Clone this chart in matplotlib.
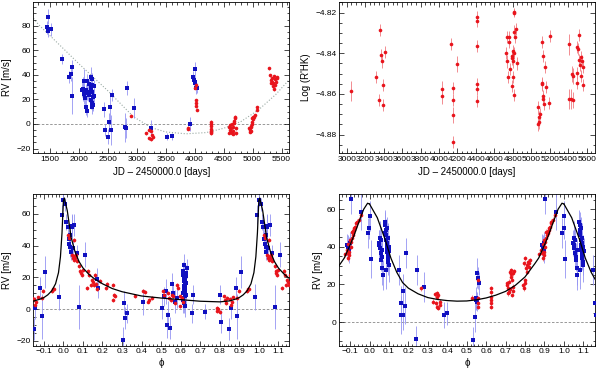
"""RV time series, activity index and phase-folded RV curves (2x2 panel figure)."""

import matplotlib
matplotlib.use("Agg")
import matplotlib.pyplot as plt
from matplotlib.ticker import MultipleLocator
import numpy as np

plt.rcParams["font.family"] = ["Liberation Sans", "DejaVu Sans"]
plt.rcParams["font.size"] = 6

BLUE = "#1010c0"
BLUE_ERR = "#9494f2"
RED = "#e8141c"
RED_ERR = "#f07a80"

# --- top left: RV vs time -------------------------------------------------
t_blue = [1443, 1460, 1471, 1512, 1713, 1834, 1863, 1886, 1886, 2047, 2070, 2075,
          2087, 2093, 2105, 2122, 2122, 2133, 2133, 2145, 2162, 2180, 2180, 2203,
          2203, 2208, 2220, 2220, 2225, 2225, 2225, 2237, 2248, 2260, 2265, 2438,
          2450, 2497, 2519, 2541, 2559, 2576, 2795, 2807, 2835, 2957, 3240, 3526,
          3602, 3918, 3975, 3987, 3999, 4004, 4010, 4022, 4044]
rv_blue = [78.6, 87.3, 75.9, 77, 52.6, 38, 40.6, 46, 23, 28, 28, 28.5,
           35, 24.4, 20.9, 27.6, 14, 35, 10.8, 25.5, 26.3, 32.5, 23.6, 38.5,
           19.5, 29, 36.3, 17.3, 31.4, 26.3, 13.5, 22.2, 15.4, 22.8, 30.9, 12,
           -4.9, -10.3, 1.9, 13.5, -4.9, 23.6, -2.7, -3.3, 29.3, 12.8, -3, -10.3,
           -10, 0, 38.5, 35.8, 44.7, 33.1, 34.4, 29, 29]
err_blue = [5, 6, 5, 5, 4, 5, 6, 6, 15, 6, 7, 10,
            10, 8, 6, 5, 7, 6, 5, 6, 8, 5, 6, 8,
            7, 9, 5, 6, 7, 6, 5, 6, 5, 6, 5, 6,
            5, 6, 7, 10, 12, 5, 12, 8, 6, 8, 6, 3,
            3, 6, 5, 4, 6, 4, 5, 5, 4]

t_red = [2894, 3158, 3215, 3239, 3262, 3210, 3239, 3274, 3878, 3890,
         4004, 4015, 4020, 4024, 4040, 4022,
         4275, 4275, 4275, 4275, 4275, 4275, 4275,
         4586, 4597, 4609, 4609, 4621, 4631, 4638, 4643, 4655, 4666, 4666,
         4679, 4683, 4690, 4700, 4713, 4713,
         4942, 4954, 4954, 4966, 4972, 4977, 4983, 4989, 4994, 5001, 5011,
         5023, 5041, 5070, 5080,
         5282, 5299, 5311, 5322, 5328, 5339, 5351, 5357, 5369, 5369, 5380,
         5391, 5403, 5415, 5426]
rv_red = [6.8, -7.6, -4.9, -5.7, -8.9, -11.6, -12.4, -10.8, -4, -3,
          29.5, 31.7, 16.8, 14.6, 11.4, 19.5,
          1.9, 0, -1.6, -3.8, -5.4, -6.8, -7.6,
          -7.1, -2.2, -4.9, -0.8, -3.5, -6.3, -7.6, 0, -5.4, -2.2, -8.1,
          0.6, 2.7, 4.6, 5.9, -7.6, -3.5,
          -3.5, -4.9, -6.3, -2.2, -5.4, -1.4, 0, 1.9, 4.6, 5.9, 3.8,
          5.4, 7.3, 11.4, 13.6,
          45.3, 39.8, 35.8, 33.6, 34.4, 37.1, 33.1, 30.9, 39, 28.2, 36.3,
          31.7, 34.4, 38, 37.1]

# long-term trend
trend_t = [1215, 1300, 1673, 2000, 2500, 2939, 3250, 3500, 3850, 4200, 4500,
           4800, 5100, 5400, 5630]
trend_rv = [86, 81, 64, 49, 27, 6, -3, -6.5, -8, -7, -3.5, 2, 11.4, 24, 36]

# --- top right: activity index --------------------------------------------
t_rhk = [3043, 3318, 3354, 3361, 3368, 3379, 3397, 3397, 3415,
         4029, 4029, 4126, 4155, 4155, 4155, 4155, 4191,
         4408, 4415, 4415, 4408, 4408, 4408,
         4726, 4733, 4740, 4747, 4762, 4762, 4769, 4787, 4791, 4794, 4798,
         4805, 4805, 4812, 4812, 4812, 4816, 4816, 4823, 4834, 4841,
         5069, 5076, 5083, 5087, 5090, 5112, 5116, 5119, 5123, 5123, 5126,
         5141, 5148, 5155, 5195, 5202,
         5411, 5411, 5429, 5440, 5447, 5447, 5491, 5491, 5498, 5501, 5512,
         5520, 5527, 5534, 5534, 5545, 5556, 5563]
rhk = [-4.8585, -4.8518, -4.863, -4.8285, -4.841, -4.844, -4.8556, -4.8654, -4.8395,
       -4.8576, -4.861, -4.8354, -4.857, -4.863, -4.8703, -4.8835, -4.8453,
       -4.8223, -4.824, -4.8364, -4.8553, -4.8577, -4.8633,
       -4.84, -4.8321, -4.844, -4.8518, -4.8321, -4.8343, -4.8479, -4.8413,
       -4.8425, -4.856, -4.844, -4.8518, -4.8387, -4.8195, -4.8203, -4.8605,
       -4.8397, -4.8293, -4.8321, -4.828, -4.845,
       -4.8666, -4.875, -4.874, -4.8715, -4.87, -4.8548, -4.8553, -4.8343,
       -4.8413, -4.861, -4.8626, -4.865, -4.8469, -4.8567, -4.8646, -4.8313,
       -4.8356, -4.8626, -4.8626, -4.8502, -4.863, -4.851, -4.8498, -4.8545,
       -4.8367, -4.838, -4.831, -4.8433, -4.8458, -4.842, -4.851, -4.844,
       -4.8466, -4.8556]
rhk_err = [0.005, 0.003, 0.003, 0.003, 0.003, 0.003, 0.003, 0.003, 0.003,
           0.004, 0.004, 0.003, 0.003, 0.003, 0.004, 0.003, 0.004,
           0.003, 0.003, 0.003, 0.003, 0.003, 0.003,
           0.003, 0.003, 0.003, 0.003, 0.003, 0.003, 0.003, 0.003,
           0.003, 0.003, 0.003, 0.003, 0.003, 0.002, 0.002, 0.003,
           0.003, 0.003, 0.003, 0.003, 0.003,
           0.003, 0.003, 0.003, 0.003, 0.003, 0.003, 0.003, 0.003,
           0.003, 0.003, 0.003, 0.003, 0.003, 0.003, 0.003, 0.003,
           0.005, 0.005, 0.005, 0.004, 0.004, 0.004, 0.003, 0.003,
           0.003, 0.003, 0.003, 0.003, 0.003, 0.003, 0.003, 0.003,
           0.003, 0.003]

# --- bottom left: phase-folded RV, planet 1 (phase in [0, 1)) -------------
ph1_blue = [0.0, 0.009, 0.014, 0.023, 0.035, 0.028, 0.031, 0.035, 0.038, 0.043,
            0.048, 0.043, 0.056, 0.069, 0.081, 0.111, 0.171, 0.179, 0.307, 0.311,
            0.316, 0.328, 0.41, 0.503, 0.517, 0.523, 0.529, 0.537, 0.546, 0.554,
            0.563, 0.571, 0.58,
            0.611, 0.614, 0.617, 0.619, 0.621, 0.623, 0.624, 0.626, 0.611, 0.614,
            0.617, 0.623, 0.626, 0.628, 0.631, 0.619, 0.612, 0.624, 0.616, 0.621,
            0.629, 0.617,
            0.657, 0.662, 0.725, 0.801, 0.807, 0.849, 0.856, 0.881, 0.891, 0.907,
            0.98, 0.992]
rv1_blue = [69, 66, 55, 52, 47, 44, 41, 39, 36, 52,
            38.5, 52.2, 52.8, 35.4, 1.3, 34.3, 19.2, 13.3, -19.4, 4.2,
            -5.7, -2.5, 4.4, 0.6, 8, 11.2, -9.9, -3.6, -12, 15.8,
            10.1, 4.8, 6.9,
            23.8, 21.7, 19.6, 17.5, 15.4, 13.3, 11.2, 9.1, 6.9, 5.9,
            3.8, 2.3, 16.4, 22.7, 25.9, 12.2, 10.1, 8, 14.3, 18.5,
            20.6, 28,
            -2.5, 9.1, -1.5, 9.1, -7.8, -12.6, 0.6, 13.3, -4.6, 23.6,
            7.6, 59.4]
err1_blue = [4, 4, 5, 6, 5, 6, 5, 6, 5, 8,
             6, 7, 7, 5, 14, 8, 7, 6, 8, 7,
             7, 6, 8, 7, 6, 8, 8, 9, 7, 7,
             6, 7, 6,
             6, 7, 5, 8, 6, 7, 5, 6, 7, 8,
             6, 7, 6, 5, 6, 7, 8, 6, 7, 5,
             6, 7,
             6, 6, 5, 6, 7, 7, 7, 7, 14, 10,
             8, 6]

ph1_red = [0.026, 0.031, 0.052, 0.043, 0.048, 0.052, 0.055, 0.06, 0.064, 0.069,
           0.082, 0.086, 0.09, 0.094, 0.099, 0.12, 0.128, 0.133, 0.14, 0.145,
           0.15, 0.157, 0.162, 0.167, 0.174, 0.185, 0.219, 0.222, 0.256, 0.26,
           0.265, 0.256, 0.367, 0.41, 0.418, 0.435, 0.44, 0.452, 0.512, 0.515,
           0.537, 0.542, 0.549, 0.554, 0.563, 0.571, 0.58, 0.588, 0.597, 0.597,
           0.605, 0.61, 0.784, 0.788, 0.793, 0.801, 0.822, 0.827, 0.832, 0.839,
           0.852, 0.856, 0.861, 0.87, 0.89, 0.898, 0.941, 0.946, 0.951]
rv1_red = [47, 44.8, 43.8, 34.3, 32.2, 31.2, 33.3, 32.2, 34.3, 30.1,
           27, 23.8, 22.7, 21.7, 24.8, 13.3, 24.2, 21.7, 15.4, 18.5,
           17, 15, 21.7, 15.8, 12.8, 17.5, 13.3, 16, 15.4, 9,
           8, 5.9, 8.4, 11.2, 10.7, 4.8, 5.9, 6.9, 11.2, 9,
           10.1, 6.9, 5.9, 9, 8, 3.8, 15.4, 13.3, 8, 1.7,
           6.9, 4.8, 0.6, -1, 0.2, -1.9, 8, 5.9, 3.8, 6.9,
           6.5, 2.7, 4.8, 7.4, 6.9, 11.6, 11.6, 12.6, 12.8]

curve1_ph = [0.0, 0.005, 0.02, 0.04, 0.06, 0.08, 0.1, 0.13, 0.16, 0.2, 0.25, 0.3,
             0.4, 0.5, 0.6, 0.7, 0.8, 0.85, 0.88, 0.9, 0.92, 0.94, 0.96, 0.975,
             0.985, 0.993, 1.0]
curve1_rv = [68, 70, 62, 45, 36, 30, 26, 22, 19, 16, 13, 11,
             8.3, 7, 6, 5, 4.6, 5.2, 6.3, 7.3, 9, 11.5, 16, 23,
             33, 48, 68]

# --- bottom right: phase-folded RV, planet 2 (phase in [0, 1)) ------------
ph2_blue = [0.886, 0.891, 0.897, 0.9, 0.905, 0.957, 0.991, 0.998, 0.003, 0.006,
            0.047, 0.051, 0.054, 0.054, 0.058, 0.059, 0.061, 0.063, 0.065, 0.066,
            0.068,
            0.08, 0.082, 0.082, 0.083, 0.085, 0.085, 0.087, 0.089, 0.089, 0.089,
            0.09, 0.092, 0.092, 0.094, 0.095, 0.095, 0.097, 0.099, 0.099, 0.102,
            0.15, 0.16, 0.164, 0.174, 0.174, 0.18, 0.188, 0.243, 0.24, 0.28,
            0.383, 0.397, 0.534, 0.543, 0.546, 0.548, 0.552, 0.555, 0.558, 0.562]
rv2_blue = [41, 40.1, 38.3, 41.9, 65.5, 58.8, 47.2, 50.2, 56.6, 33.5,
            41.9, 41, 39.2, 44.5, 43.7, 36.6, 33, 34.8, 28.6, 38.3,
            25,
            53.4, 51.6, 47.2, 48.9, 46.3, 27.7, 43.7, 41, 38.4, 49.9,
            39.2, 37.5, 41.9, 35.7, 33.9, 44.5, 32.1, 30.4, 40.1, 37.8,
            27.7, 9.9, 3.7, 3.7, 16.5, 8.7, 36.6, 27.7, -9, 18.8,
            3.7, 4.6, -9.6, 2.8, 12.6, 11.7, 10.8, 25.9, 23.3, 20.6]
err2_blue = [6, 6, 7, 6, 8, 10, 8, 6, 8, 10,
             7, 8, 6, 9, 7, 8, 6, 7, 9, 6,
             8,
             6, 7, 8, 6, 7, 10, 6, 8, 7, 6,
             7, 8, 6, 7, 6, 8, 7, 9, 6, 7,
             8, 9, 10, 8, 9, 10, 8, 8, 7, 8,
             7, 6, 7, 8, 6, 5, 5, 8, 6, 6]

ph2_red = [0.874, 0.883, 0.888, 0.891, 0.891, 0.897, 0.897, 0.9, 0.903, 0.903,
           0.909, 0.909, 0.914, 0.917, 0.917, 0.921, 0.921, 0.926, 0.931, 0.934,
           0.945, 0.955,
           0.264, 0.329, 0.337, 0.342, 0.346, 0.346, 0.349, 0.354, 0.354, 0.36,
           0.363, 0.526, 0.558, 0.56, 0.56, 0.56,
           0.624, 0.624, 0.624, 0.624, 0.624, 0.624,
           0.706, 0.709, 0.713, 0.714, 0.716, 0.72, 0.721, 0.723, 0.726, 0.728,
           0.73, 0.733, 0.735, 0.737, 0.74, 0.74, 0.744,
           0.792, 0.795, 0.797, 0.799, 0.8, 0.802, 0.806, 0.809, 0.812, 0.816,
           0.819, 0.822, 0.826]
rv2_red = [36, 38.3, 36.6, 41.4, 33.9, 37.5, 35.6, 43.7, 40.1, 42.4,
           48.1, 44.9, 46.3, 48.5, 47.2, 49.9, 49, 50.8, 52.5, 53.4,
           54.5, 57,
           17.9, 10.8, 14.7, 9.9, 15.3, 8.2, 13.5, 14.4, 7.6, 10.8,
           9.1, 13, 9.9, 12.6, 22.4, 8.2,
           17.9, 16.2, 13.5, 11.7, 9.9, 8.2,
           19.7, 20.6, 15.3, 17.9, 16.2, 21.5, 17.6, 26.8, 27.7, 25.4,
           24.1, 22.4, 14.4, 18.8, 16.5, 25.9, 27.2,
           19.7, 31.2, 17.9, 20.6, 33.9, 22.4, 28.6, 30.4, 26.8, 32.1,
           29.5, 31.2, 33]

curve2_ph = [0.0, 0.04, 0.08, 0.11, 0.14, 0.17, 0.2, 0.25, 0.3, 0.35, 0.4, 0.45,
             0.5, 0.55, 0.6, 0.65, 0.7, 0.75, 0.8, 0.85, 0.87, 0.9, 0.92, 0.95,
             0.97, 0.99, 1.0]
curve2_rv = [62.8, 55.5, 44, 34, 26.5, 21, 18, 15, 13, 12, 11.4, 11.1,
             11.2, 11.8, 12.8, 14.3, 16.3, 19.5, 24, 31, 34, 41, 46, 54.5,
             60, 63.2, 62.8]


def style_axes(ax, xmajor, xminor, ymajor, yminor):
    """Inward ticks on all four sides, with minor ticks."""
    ax.xaxis.set_major_locator(MultipleLocator(xmajor))
    ax.xaxis.set_minor_locator(MultipleLocator(xminor))
    ax.yaxis.set_major_locator(MultipleLocator(ymajor))
    ax.yaxis.set_minor_locator(MultipleLocator(yminor))
    ax.tick_params(which="both", direction="in", top=True, right=True,
                   width=0.5, labelsize=6, pad=2)
    ax.tick_params(which="major", length=3.5)
    ax.tick_params(which="minor", length=1.8)
    for sp in ax.spines.values():
        sp.set_linewidth(0.6)


def draw_points(ax, x, y, err, color, ecolor, marker, ms, shifts=(0,)):
    x = np.asarray(x, dtype=float)
    for s in shifts:
        ax.errorbar(x + s, y, yerr=err, fmt="none", ecolor=ecolor,
                    elinewidth=0.6, capsize=0, zorder=2)
        ax.plot(x + s, y, marker, color=color, ms=ms, mew=0, zorder=3)


fig = plt.figure(figsize=(6, 3.74), dpi=100)
ax1 = fig.add_axes([0.0558, 0.591, 0.426, 0.404])
ax2 = fig.add_axes([0.565, 0.591, 0.4267, 0.404])
ax3 = fig.add_axes([0.0558, 0.0757, 0.426, 0.405])
ax4 = fig.add_axes([0.565, 0.0757, 0.4267, 0.405])

# top left
ax1.axhline(0, color="#888888", lw=0.6, ls=(0, (3, 2)), zorder=1)
ax1.plot(trend_t, trend_rv, color="#9aaaa4", lw=0.8, ls=":", zorder=1)
draw_points(ax1, t_blue, rv_blue, err_blue, BLUE, BLUE_ERR, "s", 2.3)
draw_points(ax1, t_red, rv_red, [1.2] * len(t_red), RED, RED_ERR, "o", 2.6)
ax1.set_xlim(1215, 5630)
ax1.set_ylim(-23.6, 99.4)
style_axes(ax1, 500, 100, 20, 5)
ax1.set_xlabel("JD \u2013 2450000.0 [days]", fontsize=7, labelpad=3)
ax1.set_ylabel("RV [m/s]", fontsize=7, labelpad=3)

# top right
draw_points(ax2, t_rhk, rhk, rhk_err, RED, RED_ERR, "o", 2.6)
ax2.set_xlim(2917, 5690)
ax2.set_ylim(-4.889, -4.8147)
style_axes(ax2, 200, 50, 0.02, 0.005)
ax2.set_xlabel("JD \u2013 2450000.0 [days]", fontsize=7, labelpad=3)
ax2.set_ylabel("Log (R'HK)", fontsize=7, labelpad=3)

# bottom panels: phase-folded, each period drawn three times
for ax, cph, crv, pb, rb, eb, pr, rr in (
        (ax3, curve1_ph, curve1_rv, ph1_blue, rv1_blue, err1_blue, ph1_red, rv1_red),
        (ax4, curve2_ph, curve2_rv, ph2_blue, rv2_blue, err2_blue, ph2_red, rv2_red)):
    ax.axhline(0, color="#888888", lw=0.6, ls=(0, (3, 2)), zorder=1)
    draw_points(ax, pb, rb, eb, BLUE, BLUE_ERR, "s", 2.3, shifts=(-1, 0, 1))
    draw_points(ax, pr, rr, [1.2] * len(pr), RED, RED_ERR, "o", 2.6,
                shifts=(-1, 0, 1))
    for s in (-1, 0, 1):
        ax.plot(np.asarray(cph) + s, crv, color="black", lw=0.9, zorder=4)
    style_axes(ax, 0.1, 0.02, 20, 5)
    ax.set_xlabel("\u03d5", fontsize=7, labelpad=2)
    ax.set_ylabel("RV [m/s]", fontsize=7, labelpad=3)

ax3.set_xlim(-0.153, 1.155)
ax3.set_ylim(-23, 72.4)
ax4.set_xlim(-0.157, 1.16)
ax4.set_ylim(-12.6, 68)

fig.savefig("out.png", dpi=100)
